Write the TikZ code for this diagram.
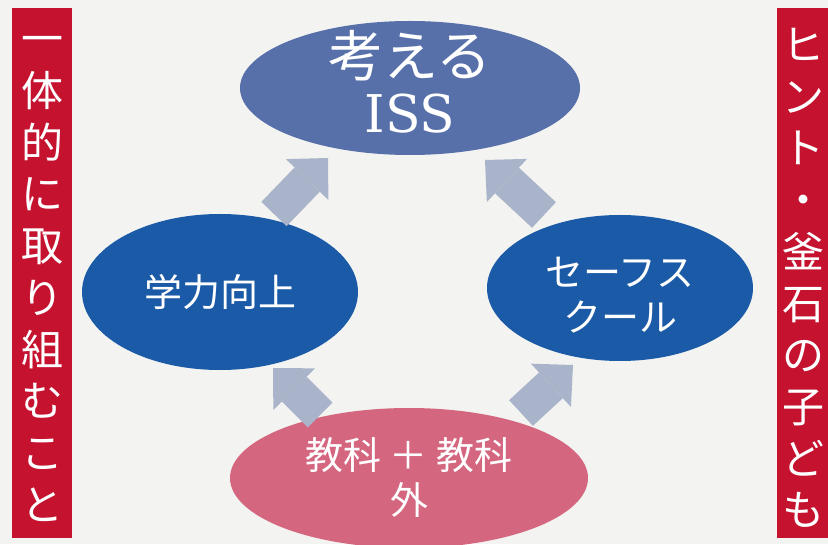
\documentclass[tikz,border=0pt]{standalone}
\usepackage{fontspec}
\usepackage{tikz}
\usetikzlibrary{shapes.geometric,arrows.meta}
\newfontfamily\jpfont{Noto Sans CJK JP}
\newfontfamily\issfont{DejaVu Serif}
\definecolor{paper}{HTML}{F3F3F1}
\definecolor{barred}{HTML}{C4122F}
\definecolor{issblue}{HTML}{5770AA}
\definecolor{deepblue}{HTML}{1B5AA6}
\definecolor{kyokapink}{HTML}{D4677F}
\definecolor{arrowgray}{HTML}{A9B3CA}

\begin{document}
\begin{tikzpicture}[x=1pt,y=1pt,
  flow/.style={draw=arrowgray,line width=35pt,
    -{Triangle[width=59pt,length=30pt,line width=0pt]}}]
 \tikzstyle{sidebar} = [rectangle,fill=barred,inner sep=0pt,
   minimum width=60pt,minimum height=530pt]
 \tikzstyle{sidetext} = [text=white,inner sep=0pt,align=center,
   font=\jpfont\fontsize{42pt}{51.7pt}\selectfont]
 \tikzstyle{bubble} = [ellipse,text=white,inner sep=0pt,outer sep=0pt,align=center,
   font=\jpfont\fontsize{38pt}{45pt}\selectfont]

% Paper
 \fill[paper] (0,0) rectangle (828,544);
 \useasboundingbox (0,0) rectangle (828,544);

% Side bars (text sits a little low in the bar)
 \node[sidebar] (leftbar) at (42,271) {};
 \node[sidetext] (lefttext) at ([yshift=-6pt]leftbar.center) {一\\体\\的\\に\\取\\り\\組\\む\\こ\\と};
 \node[sidebar,minimum width=52pt] (rightbar) at (803,271) {};
 \node[sidetext] (righttext) at ([yshift=-5pt]rightbar.center) {ヒ\\ン\\ト\\・\\釜\\石\\の\\子\\ど\\も};

% Ellipses
 \node[bubble,fill=issblue,minimum width=340pt,minimum height=134pt] (iss) at (410,456) {};
 \node[bubble,font=\jpfont\fontsize{55pt}{56pt}\selectfont] (isstext) at ([yshift=6pt]iss.center)
   {考える\\{\issfont\fontsize{52pt}{56pt}\selectfont ISS}};
 \node[bubble,fill=deepblue,minimum width=276pt,minimum height=156pt] (gakuryoku) at (220,252) {学力向上};
 \node[bubble,fill=deepblue,minimum width=266pt,minimum height=146pt] (safe) at (620,256) {};
 \node[bubble] (safetext) at ([yshift=-7pt]safe.center) {セーフス\\クール};
 \node[bubble,fill=kyokapink,minimum width=358pt,minimum height=140pt] (kyoka) at (409,66) {教科 ＋ 教科\\外};

% Arrows (tail on the lower ellipse)
 \draw[flow] ([shift={(54,78)}]gakuryoku.center) -- ++(54,56);
 \draw[flow] ([shift={(-76,73)}]safe.center) -- ++(-59,55);
 \draw[flow] ([shift={(-89,63)}]kyoka.center) -- ++(-47,47);
 \draw[flow] ([shift={(112,65)}]kyoka.center) -- ++(52,48);
\end{tikzpicture}
\end{document}
